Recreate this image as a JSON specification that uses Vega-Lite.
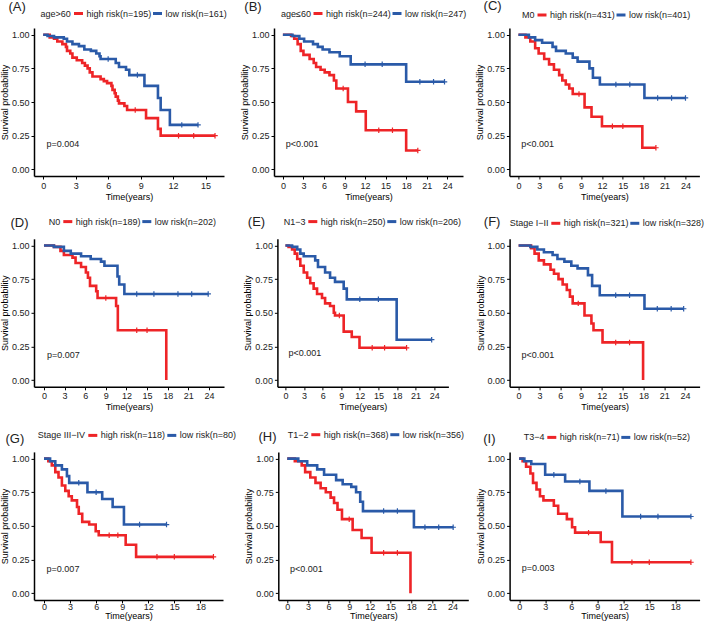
{
"$schema":"https://vega.github.io/schema/vega-lite/v6.json",
"padding":{"left":0,"top":0,"right":0,"bottom":0},
"config":{"font":"Liberation Sans","view":{"stroke":null},
"axis":{"domainColor":"black","domainWidth":1.5,"tickColor":"black","tickSize":3,"tickWidth":1,"labelColor":"#222","labelFontSize":9,"labelPadding":2,"titleFontSize":9,"titleFontWeight":"normal","titleColor":"black","grid":false,"titlePadding":2,"labelFlush":false,"labelOverlap":false,"tickCount":30},
"legend":{"orient":"none","direction":"horizontal","titleOrient":"left","titleFontSize":9,"titleFontWeight":"normal","titleColor":"#222","labelFontSize":9,"labelColor":"#222","symbolType":"stroke","symbolStrokeWidth":3,"symbolSize":81,"titlePadding":1,"columnPadding":-6,"labelOffset":2,"padding":0},
"title":{"anchor":"start","frame":"group","fontSize":13,"fontWeight":"normal","color":"#222","offset":0}},
"datasets":{
"pv":[{"p":"A","pv":"p=0.004"},{"p":"B","pv":"p<0.001"},{"p":"C","pv":"p<0.001"},{"p":"D","pv":"p=0.007"},{"p":"E","pv":"p<0.001"},{"p":"F","pv":"p<0.001"},{"p":"G","pv":"p=0.007"},{"p":"H","pv":"p<0.001"},{"p":"I","pv":"p=0.003"}],
"km":[
{"p":"A","g":"high risk(n=195)","t":0,"s":1},{"p":"A","g":"high risk(n=195)","t":0.6,"s":0.98},{"p":"A","g":"high risk(n=195)","t":1.0,"s":0.97},{"p":"A","g":"high risk(n=195)","t":1.3,"s":0.95},{"p":"A","g":"high risk(n=195)","t":1.77,"s":0.93},{"p":"A","g":"high risk(n=195)","t":2.1,"s":0.91},{"p":"A","g":"high risk(n=195)","t":2.2,"s":0.88},{"p":"A","g":"high risk(n=195)","t":2.5,"s":0.86},{"p":"A","g":"high risk(n=195)","t":2.7,"s":0.83},{"p":"A","g":"high risk(n=195)","t":3.1,"s":0.81},{"p":"A","g":"high risk(n=195)","t":3.6,"s":0.79},{"p":"A","g":"high risk(n=195)","t":3.85,"s":0.77},{"p":"A","g":"high risk(n=195)","t":4.1,"s":0.75},{"p":"A","g":"high risk(n=195)","t":4.3,"s":0.72},{"p":"A","g":"high risk(n=195)","t":4.55,"s":0.69},{"p":"A","g":"high risk(n=195)","t":5.3,"s":0.67},{"p":"A","g":"high risk(n=195)","t":5.6,"s":0.655},{"p":"A","g":"high risk(n=195)","t":5.9,"s":0.64},{"p":"A","g":"high risk(n=195)","t":6.3,"s":0.62},{"p":"A","g":"high risk(n=195)","t":6.4,"s":0.59},{"p":"A","g":"high risk(n=195)","t":6.6,"s":0.565},{"p":"A","g":"high risk(n=195)","t":6.7,"s":0.54},{"p":"A","g":"high risk(n=195)","t":6.9,"s":0.51},{"p":"A","g":"high risk(n=195)","t":7.0,"s":0.49},{"p":"A","g":"high risk(n=195)","t":7.5,"s":0.47},{"p":"A","g":"high risk(n=195)","t":7.75,"s":0.44},{"p":"A","g":"high risk(n=195)","t":8.5,"s":0.44,"c":1},{"p":"A","g":"high risk(n=195)","t":9.5,"s":0.38},{"p":"A","g":"high risk(n=195)","t":10.6,"s":0.30},{"p":"A","g":"high risk(n=195)","t":10.85,"s":0.25},{"p":"A","g":"high risk(n=195)","t":12.5,"s":0.25,"c":1},{"p":"A","g":"high risk(n=195)","t":13.9,"s":0.25,"c":1},{"p":"A","g":"high risk(n=195)","t":15.87,"s":0.25,"c":1},
{"p":"A","g":"low risk(n=161)","t":0,"s":1},{"p":"A","g":"low risk(n=161)","t":0.4,"s":0.99},{"p":"A","g":"low risk(n=161)","t":1.0,"s":0.98},{"p":"A","g":"low risk(n=161)","t":1.9,"s":0.97},{"p":"A","g":"low risk(n=161)","t":2.2,"s":0.95},{"p":"A","g":"low risk(n=161)","t":2.7,"s":0.93},{"p":"A","g":"low risk(n=161)","t":3.3,"s":0.915},{"p":"A","g":"low risk(n=161)","t":3.8,"s":0.89},{"p":"A","g":"low risk(n=161)","t":4.4,"s":0.88},{"p":"A","g":"low risk(n=161)","t":4.9,"s":0.86},{"p":"A","g":"low risk(n=161)","t":5.2,"s":0.84},{"p":"A","g":"low risk(n=161)","t":5.3,"s":0.82},{"p":"A","g":"low risk(n=161)","t":6.0,"s":0.82,"c":1},{"p":"A","g":"low risk(n=161)","t":6.7,"s":0.79},{"p":"A","g":"low risk(n=161)","t":7.0,"s":0.76},{"p":"A","g":"low risk(n=161)","t":7.65,"s":0.74},{"p":"A","g":"low risk(n=161)","t":7.95,"s":0.70},{"p":"A","g":"low risk(n=161)","t":8.7,"s":0.70,"c":1},{"p":"A","g":"low risk(n=161)","t":9.35,"s":0.62},{"p":"A","g":"low risk(n=161)","t":10.6,"s":0.53},{"p":"A","g":"low risk(n=161)","t":10.85,"s":0.44},{"p":"A","g":"low risk(n=161)","t":11.7,"s":0.33},{"p":"A","g":"low risk(n=161)","t":12.8,"s":0.33,"c":1},{"p":"A","g":"low risk(n=161)","t":14.3,"s":0.33,"c":1},
{"p":"B","g":"high risk(n=244)","t":0,"s":1},{"p":"B","g":"high risk(n=244)","t":1.2,"s":0.99},{"p":"B","g":"high risk(n=244)","t":1.65,"s":0.97},{"p":"B","g":"high risk(n=244)","t":2.15,"s":0.93},{"p":"B","g":"high risk(n=244)","t":2.6,"s":0.88},{"p":"B","g":"high risk(n=244)","t":3.0,"s":0.85},{"p":"B","g":"high risk(n=244)","t":3.9,"s":0.82},{"p":"B","g":"high risk(n=244)","t":4.5,"s":0.79},{"p":"B","g":"high risk(n=244)","t":4.85,"s":0.76},{"p":"B","g":"high risk(n=244)","t":5.5,"s":0.74},{"p":"B","g":"high risk(n=244)","t":6.1,"s":0.72},{"p":"B","g":"high risk(n=244)","t":6.8,"s":0.70},{"p":"B","g":"high risk(n=244)","t":7.45,"s":0.66},{"p":"B","g":"high risk(n=244)","t":7.8,"s":0.60},{"p":"B","g":"high risk(n=244)","t":8.8,"s":0.60,"c":1},{"p":"B","g":"high risk(n=244)","t":9.5,"s":0.50},{"p":"B","g":"high risk(n=244)","t":10.7,"s":0.43},{"p":"B","g":"high risk(n=244)","t":12.1,"s":0.29},{"p":"B","g":"high risk(n=244)","t":14.0,"s":0.29,"c":1},{"p":"B","g":"high risk(n=244)","t":16.0,"s":0.29,"c":1},{"p":"B","g":"high risk(n=244)","t":18.0,"s":0.14},{"p":"B","g":"high risk(n=244)","t":19.7,"s":0.14,"c":1},
{"p":"B","g":"low risk(n=247)","t":0,"s":1},{"p":"B","g":"low risk(n=247)","t":1.4,"s":0.99},{"p":"B","g":"low risk(n=247)","t":2.4,"s":0.97},{"p":"B","g":"low risk(n=247)","t":3.1,"s":0.95},{"p":"B","g":"low risk(n=247)","t":4.4,"s":0.93},{"p":"B","g":"low risk(n=247)","t":5.1,"s":0.91},{"p":"B","g":"low risk(n=247)","t":5.8,"s":0.89},{"p":"B","g":"low risk(n=247)","t":6.8,"s":0.87},{"p":"B","g":"low risk(n=247)","t":8.3,"s":0.84},{"p":"B","g":"low risk(n=247)","t":9.9,"s":0.78},{"p":"B","g":"low risk(n=247)","t":12.0,"s":0.78,"c":1},{"p":"B","g":"low risk(n=247)","t":14.5,"s":0.78,"c":1},{"p":"B","g":"low risk(n=247)","t":18.0,"s":0.65},{"p":"B","g":"low risk(n=247)","t":20.0,"s":0.65,"c":1},{"p":"B","g":"low risk(n=247)","t":22.0,"s":0.65,"c":1},{"p":"B","g":"low risk(n=247)","t":23.6,"s":0.65,"c":1},
{"p":"C","g":"high risk(n=431)","t":0,"s":1},{"p":"C","g":"high risk(n=431)","t":1.0,"s":0.98},{"p":"C","g":"high risk(n=431)","t":1.7,"s":0.95},{"p":"C","g":"high risk(n=431)","t":2.4,"s":0.90},{"p":"C","g":"high risk(n=431)","t":2.9,"s":0.86},{"p":"C","g":"high risk(n=431)","t":3.7,"s":0.82},{"p":"C","g":"high risk(n=431)","t":4.4,"s":0.78},{"p":"C","g":"high risk(n=431)","t":5.1,"s":0.74},{"p":"C","g":"high risk(n=431)","t":5.85,"s":0.70},{"p":"C","g":"high risk(n=431)","t":6.3,"s":0.66},{"p":"C","g":"high risk(n=431)","t":6.8,"s":0.63},{"p":"C","g":"high risk(n=431)","t":7.3,"s":0.60},{"p":"C","g":"high risk(n=431)","t":7.8,"s":0.56},{"p":"C","g":"high risk(n=431)","t":8.7,"s":0.56,"c":1},{"p":"C","g":"high risk(n=431)","t":9.5,"s":0.46},{"p":"C","g":"high risk(n=431)","t":10.5,"s":0.39},{"p":"C","g":"high risk(n=431)","t":12.0,"s":0.32},{"p":"C","g":"high risk(n=431)","t":13.5,"s":0.32,"c":1},{"p":"C","g":"high risk(n=431)","t":15.0,"s":0.32,"c":1},{"p":"C","g":"high risk(n=431)","t":17.8,"s":0.16},{"p":"C","g":"high risk(n=431)","t":19.75,"s":0.16,"c":1},
{"p":"C","g":"low risk(n=401)","t":0,"s":1},{"p":"C","g":"low risk(n=401)","t":1.5,"s":0.98},{"p":"C","g":"low risk(n=401)","t":2.4,"s":0.96},{"p":"C","g":"low risk(n=401)","t":3.4,"s":0.94},{"p":"C","g":"low risk(n=401)","t":4.9,"s":0.91},{"p":"C","g":"low risk(n=401)","t":5.4,"s":0.88},{"p":"C","g":"low risk(n=401)","t":6.8,"s":0.86},{"p":"C","g":"low risk(n=401)","t":7.8,"s":0.83},{"p":"C","g":"low risk(n=401)","t":8.5,"s":0.80},{"p":"C","g":"low risk(n=401)","t":10.2,"s":0.75},{"p":"C","g":"low risk(n=401)","t":10.7,"s":0.68},{"p":"C","g":"low risk(n=401)","t":11.7,"s":0.63},{"p":"C","g":"low risk(n=401)","t":14.0,"s":0.63,"c":1},{"p":"C","g":"low risk(n=401)","t":16.0,"s":0.63,"c":1},{"p":"C","g":"low risk(n=401)","t":18.1,"s":0.53},{"p":"C","g":"low risk(n=401)","t":20.0,"s":0.53,"c":1},{"p":"C","g":"low risk(n=401)","t":22.0,"s":0.53,"c":1},{"p":"C","g":"low risk(n=401)","t":24.0,"s":0.53,"c":1},
{"p":"D","g":"high risk(n=189)","t":0,"s":1},{"p":"D","g":"high risk(n=189)","t":1.45,"s":0.99},{"p":"D","g":"high risk(n=189)","t":2.4,"s":0.96},{"p":"D","g":"high risk(n=189)","t":2.9,"s":0.93},{"p":"D","g":"high risk(n=189)","t":4.15,"s":0.91},{"p":"D","g":"high risk(n=189)","t":4.6,"s":0.87},{"p":"D","g":"high risk(n=189)","t":5.4,"s":0.84},{"p":"D","g":"high risk(n=189)","t":6.1,"s":0.80},{"p":"D","g":"high risk(n=189)","t":6.4,"s":0.76},{"p":"D","g":"high risk(n=189)","t":6.7,"s":0.70},{"p":"D","g":"high risk(n=189)","t":7.6,"s":0.66},{"p":"D","g":"high risk(n=189)","t":7.8,"s":0.61},{"p":"D","g":"high risk(n=189)","t":9.0,"s":0.61,"c":1},{"p":"D","g":"high risk(n=189)","t":10.5,"s":0.55},{"p":"D","g":"high risk(n=189)","t":10.75,"s":0.37},{"p":"D","g":"high risk(n=189)","t":13.5,"s":0.37,"c":1},{"p":"D","g":"high risk(n=189)","t":15.0,"s":0.37,"c":1},{"p":"D","g":"high risk(n=189)","t":17.8,"s":0},
{"p":"D","g":"low risk(n=202)","t":0,"s":1},{"p":"D","g":"low risk(n=202)","t":1.45,"s":0.99},{"p":"D","g":"low risk(n=202)","t":2.9,"s":0.96},{"p":"D","g":"low risk(n=202)","t":3.9,"s":0.94},{"p":"D","g":"low risk(n=202)","t":5.4,"s":0.92},{"p":"D","g":"low risk(n=202)","t":6.8,"s":0.90},{"p":"D","g":"low risk(n=202)","t":8.3,"s":0.88},{"p":"D","g":"low risk(n=202)","t":8.8,"s":0.85},{"p":"D","g":"low risk(n=202)","t":10.7,"s":0.77},{"p":"D","g":"low risk(n=202)","t":10.95,"s":0.71},{"p":"D","g":"low risk(n=202)","t":11.7,"s":0.64},{"p":"D","g":"low risk(n=202)","t":13.5,"s":0.64,"c":1},{"p":"D","g":"low risk(n=202)","t":16.0,"s":0.64,"c":1},{"p":"D","g":"low risk(n=202)","t":19.5,"s":0.64,"c":1},{"p":"D","g":"low risk(n=202)","t":21.5,"s":0.64,"c":1},{"p":"D","g":"low risk(n=202)","t":23.9,"s":0.64,"c":1},
{"p":"E","g":"high risk(n=250)","t":0,"s":1},{"p":"E","g":"high risk(n=250)","t":0.5,"s":0.99},{"p":"E","g":"high risk(n=250)","t":1.07,"s":0.97},{"p":"E","g":"high risk(n=250)","t":1.5,"s":0.94},{"p":"E","g":"high risk(n=250)","t":1.9,"s":0.90},{"p":"E","g":"high risk(n=250)","t":2.4,"s":0.85},{"p":"E","g":"high risk(n=250)","t":2.95,"s":0.80},{"p":"E","g":"high risk(n=250)","t":3.5,"s":0.76},{"p":"E","g":"high risk(n=250)","t":4.0,"s":0.72},{"p":"E","g":"high risk(n=250)","t":4.55,"s":0.68},{"p":"E","g":"high risk(n=250)","t":5.1,"s":0.64},{"p":"E","g":"high risk(n=250)","t":5.9,"s":0.61},{"p":"E","g":"high risk(n=250)","t":6.4,"s":0.57},{"p":"E","g":"high risk(n=250)","t":7.2,"s":0.55},{"p":"E","g":"high risk(n=250)","t":7.8,"s":0.50},{"p":"E","g":"high risk(n=250)","t":8.0,"s":0.48},{"p":"E","g":"high risk(n=250)","t":8.7,"s":0.48,"c":1},{"p":"E","g":"high risk(n=250)","t":9.4,"s":0.36},{"p":"E","g":"high risk(n=250)","t":10.7,"s":0.32},{"p":"E","g":"high risk(n=250)","t":11.95,"s":0.24},{"p":"E","g":"high risk(n=250)","t":14.0,"s":0.24,"c":1},{"p":"E","g":"high risk(n=250)","t":16.0,"s":0.24,"c":1},{"p":"E","g":"high risk(n=250)","t":19.55,"s":0.24,"c":1},
{"p":"E","g":"low risk(n=206)","t":0,"s":1},{"p":"E","g":"low risk(n=206)","t":1.07,"s":0.99},{"p":"E","g":"low risk(n=206)","t":1.9,"s":0.97},{"p":"E","g":"low risk(n=206)","t":2.4,"s":0.94},{"p":"E","g":"low risk(n=206)","t":2.95,"s":0.92},{"p":"E","g":"low risk(n=206)","t":4.8,"s":0.89},{"p":"E","g":"low risk(n=206)","t":5.25,"s":0.84},{"p":"E","g":"low risk(n=206)","t":6.4,"s":0.80},{"p":"E","g":"low risk(n=206)","t":7.2,"s":0.76},{"p":"E","g":"low risk(n=206)","t":8.0,"s":0.73},{"p":"E","g":"low risk(n=206)","t":9.4,"s":0.68},{"p":"E","g":"low risk(n=206)","t":9.9,"s":0.60},{"p":"E","g":"low risk(n=206)","t":12.0,"s":0.60,"c":1},{"p":"E","g":"low risk(n=206)","t":15.0,"s":0.60,"c":1},{"p":"E","g":"low risk(n=206)","t":17.95,"s":0.30},{"p":"E","g":"low risk(n=206)","t":23.6,"s":0.30,"c":1},
{"p":"F","g":"high risk(n=321)","t":0,"s":1},{"p":"F","g":"high risk(n=321)","t":1.8,"s":0.98},{"p":"F","g":"high risk(n=321)","t":2.3,"s":0.94},{"p":"F","g":"high risk(n=321)","t":2.9,"s":0.89},{"p":"F","g":"high risk(n=321)","t":3.65,"s":0.86},{"p":"F","g":"high risk(n=321)","t":4.6,"s":0.82},{"p":"F","g":"high risk(n=321)","t":5.1,"s":0.79},{"p":"F","g":"high risk(n=321)","t":5.75,"s":0.75},{"p":"F","g":"high risk(n=321)","t":6.35,"s":0.71},{"p":"F","g":"high risk(n=321)","t":6.95,"s":0.67},{"p":"F","g":"high risk(n=321)","t":7.4,"s":0.62},{"p":"F","g":"high risk(n=321)","t":7.8,"s":0.57},{"p":"F","g":"high risk(n=321)","t":8.6,"s":0.57,"c":1},{"p":"F","g":"high risk(n=321)","t":9.5,"s":0.48},{"p":"F","g":"high risk(n=321)","t":10.5,"s":0.42},{"p":"F","g":"high risk(n=321)","t":10.8,"s":0.37},{"p":"F","g":"high risk(n=321)","t":12.1,"s":0.28},{"p":"F","g":"high risk(n=321)","t":14.0,"s":0.28,"c":1},{"p":"F","g":"high risk(n=321)","t":16.0,"s":0.28,"c":1},{"p":"F","g":"high risk(n=321)","t":17.95,"s":0},
{"p":"F","g":"low risk(n=328)","t":0,"s":1},{"p":"F","g":"low risk(n=328)","t":1.7,"s":0.99},{"p":"F","g":"low risk(n=328)","t":2.7,"s":0.97},{"p":"F","g":"low risk(n=328)","t":3.65,"s":0.95},{"p":"F","g":"low risk(n=328)","t":4.9,"s":0.93},{"p":"F","g":"low risk(n=328)","t":5.6,"s":0.90},{"p":"F","g":"low risk(n=328)","t":6.6,"s":0.88},{"p":"F","g":"low risk(n=328)","t":7.6,"s":0.85},{"p":"F","g":"low risk(n=328)","t":8.5,"s":0.83},{"p":"F","g":"low risk(n=328)","t":10.0,"s":0.78},{"p":"F","g":"low risk(n=328)","t":10.6,"s":0.70},{"p":"F","g":"low risk(n=328)","t":11.7,"s":0.63},{"p":"F","g":"low risk(n=328)","t":14.0,"s":0.63,"c":1},{"p":"F","g":"low risk(n=328)","t":16.0,"s":0.63,"c":1},{"p":"F","g":"low risk(n=328)","t":18.15,"s":0.53},{"p":"F","g":"low risk(n=328)","t":20.0,"s":0.53,"c":1},{"p":"F","g":"low risk(n=328)","t":22.0,"s":0.53,"c":1},{"p":"F","g":"low risk(n=328)","t":23.8,"s":0.53,"c":1},
{"p":"G","g":"high risk(n=118)","t":0,"s":1},{"p":"G","g":"high risk(n=118)","t":0.5,"s":0.98},{"p":"G","g":"high risk(n=118)","t":0.9,"s":0.95},{"p":"G","g":"high risk(n=118)","t":1.3,"s":0.90},{"p":"G","g":"high risk(n=118)","t":1.67,"s":0.86},{"p":"G","g":"high risk(n=118)","t":2.06,"s":0.80},{"p":"G","g":"high risk(n=118)","t":2.45,"s":0.76},{"p":"G","g":"high risk(n=118)","t":2.84,"s":0.72},{"p":"G","g":"high risk(n=118)","t":3.2,"s":0.69},{"p":"G","g":"high risk(n=118)","t":3.8,"s":0.64},{"p":"G","g":"high risk(n=118)","t":4.0,"s":0.59},{"p":"G","g":"high risk(n=118)","t":4.4,"s":0.53},{"p":"G","g":"high risk(n=118)","t":5.2,"s":0.51},{"p":"G","g":"high risk(n=118)","t":5.95,"s":0.46},{"p":"G","g":"high risk(n=118)","t":6.3,"s":0.43},{"p":"G","g":"high risk(n=118)","t":7.5,"s":0.43,"c":1},{"p":"G","g":"high risk(n=118)","t":8.5,"s":0.43,"c":1},{"p":"G","g":"high risk(n=118)","t":9.4,"s":0.36},{"p":"G","g":"high risk(n=118)","t":10.6,"s":0.27},{"p":"G","g":"high risk(n=118)","t":13.0,"s":0.27,"c":1},{"p":"G","g":"high risk(n=118)","t":15.0,"s":0.27,"c":1},{"p":"G","g":"high risk(n=118)","t":19.5,"s":0.27,"c":1},
{"p":"G","g":"low risk(n=80)","t":0,"s":1},{"p":"G","g":"low risk(n=80)","t":0.7,"s":0.98},{"p":"G","g":"low risk(n=80)","t":1.3,"s":0.95},{"p":"G","g":"low risk(n=80)","t":2.06,"s":0.92},{"p":"G","g":"low risk(n=80)","t":2.64,"s":0.87},{"p":"G","g":"low risk(n=80)","t":2.9,"s":0.82},{"p":"G","g":"low risk(n=80)","t":4.0,"s":0.82,"c":1},{"p":"G","g":"low risk(n=80)","t":5.0,"s":0.75},{"p":"G","g":"low risk(n=80)","t":6.0,"s":0.75,"c":1},{"p":"G","g":"low risk(n=80)","t":6.7,"s":0.70},{"p":"G","g":"low risk(n=80)","t":7.9,"s":0.64},{"p":"G","g":"low risk(n=80)","t":9.2,"s":0.51},{"p":"G","g":"low risk(n=80)","t":11.0,"s":0.51,"c":1},{"p":"G","g":"low risk(n=80)","t":14.1,"s":0.51,"c":1},
{"p":"H","g":"high risk(n=368)","t":0,"s":1},{"p":"H","g":"high risk(n=368)","t":1.1,"s":0.98},{"p":"H","g":"high risk(n=368)","t":2.1,"s":0.95},{"p":"H","g":"high risk(n=368)","t":2.6,"s":0.90},{"p":"H","g":"high risk(n=368)","t":3.35,"s":0.86},{"p":"H","g":"high risk(n=368)","t":4.1,"s":0.82},{"p":"H","g":"high risk(n=368)","t":4.85,"s":0.78},{"p":"H","g":"high risk(n=368)","t":5.6,"s":0.75},{"p":"H","g":"high risk(n=368)","t":6.3,"s":0.71},{"p":"H","g":"high risk(n=368)","t":6.8,"s":0.67},{"p":"H","g":"high risk(n=368)","t":7.3,"s":0.62},{"p":"H","g":"high risk(n=368)","t":7.95,"s":0.55},{"p":"H","g":"high risk(n=368)","t":9.0,"s":0.55,"c":1},{"p":"H","g":"high risk(n=368)","t":9.5,"s":0.47},{"p":"H","g":"high risk(n=368)","t":10.8,"s":0.41},{"p":"H","g":"high risk(n=368)","t":12.25,"s":0.30},{"p":"H","g":"high risk(n=368)","t":14.0,"s":0.30,"c":1},{"p":"H","g":"high risk(n=368)","t":16.0,"s":0.30,"c":1},{"p":"H","g":"high risk(n=368)","t":17.9,"s":0},
{"p":"H","g":"low risk(n=356)","t":0,"s":1},{"p":"H","g":"low risk(n=356)","t":1.6,"s":0.98},{"p":"H","g":"low risk(n=356)","t":2.9,"s":0.95},{"p":"H","g":"low risk(n=356)","t":4.35,"s":0.92},{"p":"H","g":"low risk(n=356)","t":5.35,"s":0.88},{"p":"H","g":"low risk(n=356)","t":7.1,"s":0.84},{"p":"H","g":"low risk(n=356)","t":8.05,"s":0.81},{"p":"H","g":"low risk(n=356)","t":9.3,"s":0.79},{"p":"H","g":"low risk(n=356)","t":10.0,"s":0.75},{"p":"H","g":"low risk(n=356)","t":10.6,"s":0.68},{"p":"H","g":"low risk(n=356)","t":11.0,"s":0.61},{"p":"H","g":"low risk(n=356)","t":14.0,"s":0.61,"c":1},{"p":"H","g":"low risk(n=356)","t":16.0,"s":0.61,"c":1},{"p":"H","g":"low risk(n=356)","t":18.4,"s":0.49},{"p":"H","g":"low risk(n=356)","t":20.0,"s":0.49,"c":1},{"p":"H","g":"low risk(n=356)","t":22.0,"s":0.49,"c":1},{"p":"H","g":"low risk(n=356)","t":24.1,"s":0.49,"c":1},
{"p":"I","g":"high risk(n=71)","t":0,"s":1},{"p":"I","g":"high risk(n=71)","t":0.4,"s":0.98},{"p":"I","g":"high risk(n=71)","t":0.8,"s":0.94},{"p":"I","g":"high risk(n=71)","t":1.3,"s":0.89},{"p":"I","g":"high risk(n=71)","t":1.6,"s":0.82},{"p":"I","g":"high risk(n=71)","t":2.0,"s":0.77},{"p":"I","g":"high risk(n=71)","t":2.4,"s":0.72},{"p":"I","g":"high risk(n=71)","t":2.8,"s":0.69},{"p":"I","g":"high risk(n=71)","t":4.0,"s":0.65},{"p":"I","g":"high risk(n=71)","t":4.5,"s":0.59},{"p":"I","g":"high risk(n=71)","t":5.5,"s":0.55},{"p":"I","g":"high risk(n=71)","t":6.1,"s":0.49},{"p":"I","g":"high risk(n=71)","t":6.45,"s":0.45},{"p":"I","g":"high risk(n=71)","t":8.0,"s":0.45,"c":1},{"p":"I","g":"high risk(n=71)","t":9.4,"s":0.38},{"p":"I","g":"high risk(n=71)","t":10.7,"s":0.23},{"p":"I","g":"high risk(n=71)","t":13.0,"s":0.23,"c":1},{"p":"I","g":"high risk(n=71)","t":15.0,"s":0.23,"c":1},{"p":"I","g":"high risk(n=71)","t":19.8,"s":0.23,"c":1},
{"p":"I","g":"low risk(n=52)","t":0,"s":1},{"p":"I","g":"low risk(n=52)","t":0.6,"s":0.98},{"p":"I","g":"low risk(n=52)","t":1.4,"s":0.96},{"p":"I","g":"low risk(n=52)","t":3.0,"s":0.88},{"p":"I","g":"low risk(n=52)","t":4.0,"s":0.88,"c":1},{"p":"I","g":"low risk(n=52)","t":5.3,"s":0.83},{"p":"I","g":"low risk(n=52)","t":7.0,"s":0.83,"c":1},{"p":"I","g":"low risk(n=52)","t":8.1,"s":0.76},{"p":"I","g":"low risk(n=52)","t":10.0,"s":0.76,"c":1},{"p":"I","g":"low risk(n=52)","t":11.9,"s":0.57},{"p":"I","g":"low risk(n=52)","t":14.0,"s":0.57,"c":1},{"p":"I","g":"low risk(n=52)","t":16.0,"s":0.57,"c":1},{"p":"I","g":"low risk(n=52)","t":19.8,"s":0.57,"c":1}
]},
"bounds":"full","spacing":13.8,
"resolve":{"scale":{"color":"independent","x":"independent","y":"independent"},"legend":{"color":"independent"}},
"vconcat":[
{"bounds":"flush","spacing":50,"resolve":{"scale":{"color":"independent","x":"independent","y":"independent"},"legend":{"color":"independent"}},
"hconcat":[
{"width":190,"height":148,"title":{"text":"(A)","dx":-25.5,"dy":10.3},"layer":[
{"data":{"name":"km"},"transform":[{"filter":"datum.p==='A'"}],"mark":{"type":"line","interpolate":"step-after","strokeWidth":2.6},
"encoding":{"x":{"field":"t","type":"quantitative","scale":{"domain":[-0.85,16.7],"nice":false,"zero":false},"axis":{"values":[0,3,6,9,12,15],"format":"d","tickCount":30,"labelOverlap":false,"title":"Time(years)"}},
"y":{"field":"s","type":"quantitative","scale":{"domain":[-0.05,1.05],"nice":false,"zero":false},"axis":{"values":[0,0.25,0.5,0.75,1],"tickCount":30,"format":".2f","title":"Survival probability"}},
"color":{"field":"g","type":"nominal","scale":{"range":["#EE2427","#2A5AA8"]},"legend":{"title":"age>60","legendX":6.5,"legendY":-20.5}}}},
{"data":{"name":"km"},"transform":[{"filter":"datum.p==='A' && datum.c===1"}],"mark":{"type":"point","shape":"M-1,0H1M0,-1V1","filled":false,"size":30,"strokeWidth":1.2,"opacity":1},
"encoding":{"x":{"field":"t","type":"quantitative"},"y":{"field":"s","type":"quantitative"},"color":{"field":"g","type":"nominal"}}},
{"data":{"name":"pv"},"transform":[{"filter":"datum.p==='A'"}],"mark":{"type":"text","align":"left","baseline":"middle","fontSize":9,"color":"#222"},
"encoding":{"x":{"datum":0.3},"y":{"datum":0.19},"text":{"field":"pv"}}}]},
{"bounds":"flush","spacing":46.4,"resolve":{"scale":{"color":"independent","x":"independent","y":"independent"},"legend":{"color":"independent"}},
"hconcat":[
{"width":189,"height":148,"title":{"text":"(B)","dx":-29.7,"dy":10.3},"layer":[
{"data":{"name":"km"},"transform":[{"filter":"datum.p==='B'"}],"mark":{"type":"line","interpolate":"step-after","strokeWidth":2.6},
"encoding":{"x":{"field":"t","type":"quantitative","scale":{"domain":[-1.3,26.3],"nice":false,"zero":false},"axis":{"values":[0,3,6,9,12,15,18,21,24],"format":"d","tickCount":30,"labelOverlap":false,"title":"Time(years)"}},
"y":{"field":"s","type":"quantitative","scale":{"domain":[-0.05,1.05],"nice":false,"zero":false},"axis":{"values":[0,0.25,0.5,0.75,1],"tickCount":30,"format":".2f","title":"Survival probability"}},
"color":{"field":"g","type":"nominal","scale":{"range":["#EE2427","#2A5AA8"]},"legend":{"title":"age≤60","legendX":7,"legendY":-20.5}}}},
{"data":{"name":"km"},"transform":[{"filter":"datum.p==='B' && datum.c===1"}],"mark":{"type":"point","shape":"M-1,0H1M0,-1V1","filled":false,"size":30,"strokeWidth":1.2,"opacity":1},
"encoding":{"x":{"field":"t","type":"quantitative"},"y":{"field":"s","type":"quantitative"},"color":{"field":"g","type":"nominal"}}},
{"data":{"name":"pv"},"transform":[{"filter":"datum.p==='B'"}],"mark":{"type":"text","align":"left","baseline":"middle","fontSize":9,"color":"#222"},
"encoding":{"x":{"datum":0.4},"y":{"datum":0.19},"text":{"field":"pv"}}}]},
{"width":190,"height":148,"title":{"text":"(C)","dx":-25.8,"dy":8},"layer":[
{"data":{"name":"km"},"transform":[{"filter":"datum.p==='C'"}],"mark":{"type":"line","interpolate":"step-after","strokeWidth":2.6},
"encoding":{"x":{"field":"t","type":"quantitative","scale":{"domain":[-1.3,26.0],"nice":false,"zero":false},"axis":{"values":[0,3,6,9,12,15,18,21,24],"format":"d","tickCount":30,"labelOverlap":false,"title":"Time(years)"}},
"y":{"field":"s","type":"quantitative","scale":{"domain":[-0.05,1.05],"nice":false,"zero":false},"axis":{"values":[0,0.25,0.5,0.75,1],"tickCount":30,"format":".2f","title":"Survival probability"}},
"color":{"field":"g","type":"nominal","scale":{"range":["#EE2427","#2A5AA8"]},"legend":{"title":"M0","legendX":12.6,"legendY":-19}}}},
{"data":{"name":"km"},"transform":[{"filter":"datum.p==='C' && datum.c===1"}],"mark":{"type":"point","shape":"M-1,0H1M0,-1V1","filled":false,"size":30,"strokeWidth":1.2,"opacity":1},
"encoding":{"x":{"field":"t","type":"quantitative"},"y":{"field":"s","type":"quantitative"},"color":{"field":"g","type":"nominal"}}},
{"data":{"name":"pv"},"transform":[{"filter":"datum.p==='C'"}],"mark":{"type":"text","align":"left","baseline":"middle","fontSize":9,"color":"#222"},
"encoding":{"x":{"datum":0.4},"y":{"datum":0.19},"text":{"field":"pv"}}}]}
]}]},
{"bounds":"full","spacing":16.1,"resolve":{"scale":{"color":"independent","x":"independent","y":"independent"},"legend":{"color":"independent"}},
"vconcat":[
{"bounds":"flush","spacing":53.4,"resolve":{"scale":{"color":"independent","x":"independent","y":"independent"},"legend":{"color":"independent"}},
"hconcat":[
{"width":190,"height":148,"title":{"text":"(D)","dx":-23.5,"dy":18.5},"layer":[
{"data":{"name":"km"},"transform":[{"filter":"datum.p==='D'"}],"mark":{"type":"line","interpolate":"step-after","strokeWidth":2.6},
"encoding":{"x":{"field":"t","type":"quantitative","scale":{"domain":[-1.45,26.2],"nice":false,"zero":false},"axis":{"values":[0,3,6,9,12,15,18,21,24],"format":"d","tickCount":30,"labelOverlap":false,"title":"Time(years)"}},
"y":{"field":"s","type":"quantitative","scale":{"domain":[-0.05,1.05],"nice":false,"zero":false},"axis":{"values":[0,0.25,0.5,0.75,1],"tickCount":30,"format":".2f","title":"Survival probability"}},
"color":{"field":"g","type":"nominal","scale":{"range":["#EE2427","#2A5AA8"]},"legend":{"title":"N0","legendX":14.8,"legendY":-23.2}}}},
{"data":{"name":"km"},"transform":[{"filter":"datum.p==='D' && datum.c===1"}],"mark":{"type":"point","shape":"M-1,0H1M0,-1V1","filled":false,"size":30,"strokeWidth":1.2,"opacity":1},
"encoding":{"x":{"field":"t","type":"quantitative"},"y":{"field":"s","type":"quantitative"},"color":{"field":"g","type":"nominal"}}},
{"data":{"name":"pv"},"transform":[{"filter":"datum.p==='D'"}],"mark":{"type":"text","align":"left","baseline":"middle","fontSize":9,"color":"#222"},
"encoding":{"x":{"datum":0.45},"y":{"datum":0.19},"text":{"field":"pv"}}}]},
{"bounds":"flush","spacing":61.2,"resolve":{"scale":{"color":"independent","x":"independent","y":"independent"},"legend":{"color":"independent"}},
"hconcat":[
{"width":171,"height":148,"title":{"text":"(E)","dx":-29.6,"dy":17.8},"layer":[
{"data":{"name":"km"},"transform":[{"filter":"datum.p==='E'"}],"mark":{"type":"line","interpolate":"step-after","strokeWidth":2.6},
"encoding":{"x":{"field":"t","type":"quantitative","scale":{"domain":[-1.3,26.3],"nice":false,"zero":false},"axis":{"values":[0,3,6,9,12,15,18,21,24],"format":"d","tickCount":30,"labelOverlap":false,"title":"Time(years)"}},
"y":{"field":"s","type":"quantitative","scale":{"domain":[-0.05,1.05],"nice":false,"zero":false},"axis":{"values":[0,0.25,0.5,0.75,1],"tickCount":30,"format":".2f","title":"Survival probability"}},
"color":{"field":"g","type":"nominal","scale":{"range":["#EE2427","#2A5AA8"]},"legend":{"title":"N1−3","legendX":6.4,"legendY":-23.2}}}},
{"data":{"name":"km"},"transform":[{"filter":"datum.p==='E' && datum.c===1"}],"mark":{"type":"point","shape":"M-1,0H1M0,-1V1","filled":false,"size":30,"strokeWidth":1.2,"opacity":1},
"encoding":{"x":{"field":"t","type":"quantitative"},"y":{"field":"s","type":"quantitative"},"color":{"field":"g","type":"nominal"}}},
{"data":{"name":"pv"},"transform":[{"filter":"datum.p==='E'"}],"mark":{"type":"text","align":"left","baseline":"middle","fontSize":9,"color":"#222"},
"encoding":{"x":{"datum":0.5},"y":{"datum":0.2},"text":{"field":"pv"}}}]},
{"width":190,"height":148,"title":{"text":"(F)","dx":-25.8,"dy":16.1},"layer":[
{"data":{"name":"km"},"transform":[{"filter":"datum.p==='F'"}],"mark":{"type":"line","interpolate":"step-after","strokeWidth":2.6},
"encoding":{"x":{"field":"t","type":"quantitative","scale":{"domain":[-1.3,26.1],"nice":false,"zero":false},"axis":{"values":[0,3,6,9,12,15,18,21,24],"format":"d","tickCount":30,"labelOverlap":false,"title":"Time(years)"}},
"y":{"field":"s","type":"quantitative","scale":{"domain":[-0.05,1.05],"nice":false,"zero":false},"axis":{"values":[0,0.25,0.5,0.75,1],"tickCount":30,"format":".2f","title":"Survival probability"}},
"color":{"field":"g","type":"nominal","scale":{"range":["#EE2427","#2A5AA8"]},"legend":{"title":"Stage I−II","legendX":0.2,"legendY":-21.5}}}},
{"data":{"name":"km"},"transform":[{"filter":"datum.p==='F' && datum.c===1"}],"mark":{"type":"point","shape":"M-1,0H1M0,-1V1","filled":false,"size":30,"strokeWidth":1.2,"opacity":1},
"encoding":{"x":{"field":"t","type":"quantitative"},"y":{"field":"s","type":"quantitative"},"color":{"field":"g","type":"nominal"}}},
{"data":{"name":"pv"},"transform":[{"filter":"datum.p==='F'"}],"mark":{"type":"text","align":"left","baseline":"middle","fontSize":9,"color":"#222"},
"encoding":{"x":{"datum":0.4},"y":{"datum":0.19},"text":{"field":"pv"}}}]}
]}]},
{"bounds":"flush","spacing":55.3,"resolve":{"scale":{"color":"independent","x":"independent","y":"independent"},"legend":{"color":"independent"}},
"hconcat":[
{"width":189,"height":148,"title":{"text":"(G)","dx":-28.5,"dy":21},"layer":[
{"data":{"name":"km"},"transform":[{"filter":"datum.p==='G'"}],"mark":{"type":"line","interpolate":"step-after","strokeWidth":2.6},
"encoding":{"x":{"field":"t","type":"quantitative","scale":{"domain":[-1.15,20.6],"nice":false,"zero":false},"axis":{"values":[0,3,6,9,12,15,18],"format":"d","tickCount":30,"labelOverlap":false,"labelPadding":0,"titlePadding":0,"title":"Time(years)"}},
"y":{"field":"s","type":"quantitative","scale":{"domain":[-0.05,1.05],"nice":false,"zero":false},"axis":{"values":[0,0.25,0.5,0.75,1],"tickCount":30,"format":".2f","title":"Survival probability"}},
"color":{"field":"g","type":"nominal","scale":{"range":["#EE2427","#2A5AA8"]},"legend":{"title":"Stage III−IV","legendX":3.8,"legendY":-22.5}}}},
{"data":{"name":"km"},"transform":[{"filter":"datum.p==='G' && datum.c===1"}],"mark":{"type":"point","shape":"M-1,0H1M0,-1V1","filled":false,"size":30,"strokeWidth":1.2,"opacity":1},
"encoding":{"x":{"field":"t","type":"quantitative"},"y":{"field":"s","type":"quantitative"},"color":{"field":"g","type":"nominal"}}},
{"data":{"name":"pv"},"transform":[{"filter":"datum.p==='G'"}],"mark":{"type":"text","align":"left","baseline":"middle","fontSize":9,"color":"#222"},
"encoding":{"x":{"datum":0.3},"y":{"datum":0.18},"text":{"field":"pv"}}}]},
{"bounds":"flush","spacing":41.3,"resolve":{"scale":{"color":"independent","x":"independent","y":"independent"},"legend":{"color":"independent"}},
"hconcat":[
{"width":190,"height":148,"title":{"text":"(H)","dx":-19.8,"dy":18.8},"layer":[
{"data":{"name":"km"},"transform":[{"filter":"datum.p==='H'"}],"mark":{"type":"line","interpolate":"step-after","strokeWidth":2.6},
"encoding":{"x":{"field":"t","type":"quantitative","scale":{"domain":[-1.3,26.3],"nice":false,"zero":false},"axis":{"values":[0,3,6,9,12,15,18,21,24],"format":"d","tickCount":30,"labelOverlap":false,"labelPadding":0,"titlePadding":0,"title":"Time(years)"}},
"y":{"field":"s","type":"quantitative","scale":{"domain":[-0.05,1.05],"nice":false,"zero":false},"axis":{"values":[0,0.25,0.5,0.75,1],"tickCount":30,"format":".2f","title":"Survival probability"}},
"color":{"field":"g","type":"nominal","scale":{"range":["#EE2427","#2A5AA8"]},"legend":{"title":"T1−2","legendX":9.5,"legendY":-23.2}}}},
{"data":{"name":"km"},"transform":[{"filter":"datum.p==='H' && datum.c===1"}],"mark":{"type":"point","shape":"M-1,0H1M0,-1V1","filled":false,"size":30,"strokeWidth":1.2,"opacity":1},
"encoding":{"x":{"field":"t","type":"quantitative"},"y":{"field":"s","type":"quantitative"},"color":{"field":"g","type":"nominal"}}},
{"data":{"name":"pv"},"transform":[{"filter":"datum.p==='H'"}],"mark":{"type":"text","align":"left","baseline":"middle","fontSize":9,"color":"#222"},
"encoding":{"x":{"datum":0.4},"y":{"datum":0.18},"text":{"field":"pv"}}}]},
{"width":190,"height":148,"title":{"text":"(I)","dx":-26.4,"dy":19},"layer":[
{"data":{"name":"km"},"transform":[{"filter":"datum.p==='I'"}],"mark":{"type":"line","interpolate":"step-after","strokeWidth":2.6},
"encoding":{"x":{"field":"t","type":"quantitative","scale":{"domain":[-1.1,20.8],"nice":false,"zero":false},"axis":{"values":[0,3,6,9,12,15,18],"format":"d","tickCount":30,"labelOverlap":false,"labelPadding":0,"titlePadding":0,"title":"Time(years)"}},
"y":{"field":"s","type":"quantitative","scale":{"domain":[-0.05,1.05],"nice":false,"zero":false},"axis":{"values":[0,0.25,0.5,0.75,1],"tickCount":30,"format":".2f","title":"Survival probability"}},
"color":{"field":"g","type":"nominal","scale":{"range":["#EE2427","#2A5AA8"]},"legend":{"title":"T3−4","legendX":14.2,"legendY":-20.5}}}},
{"data":{"name":"km"},"transform":[{"filter":"datum.p==='I' && datum.c===1"}],"mark":{"type":"point","shape":"M-1,0H1M0,-1V1","filled":false,"size":30,"strokeWidth":1.2,"opacity":1},
"encoding":{"x":{"field":"t","type":"quantitative"},"y":{"field":"s","type":"quantitative"},"color":{"field":"g","type":"nominal"}}},
{"data":{"name":"pv"},"transform":[{"filter":"datum.p==='I'"}],"mark":{"type":"text","align":"left","baseline":"middle","fontSize":9,"color":"#222"},
"encoding":{"x":{"datum":0.3},"y":{"datum":0.19},"text":{"field":"pv"}}}]}
]}]}
]}
]}
